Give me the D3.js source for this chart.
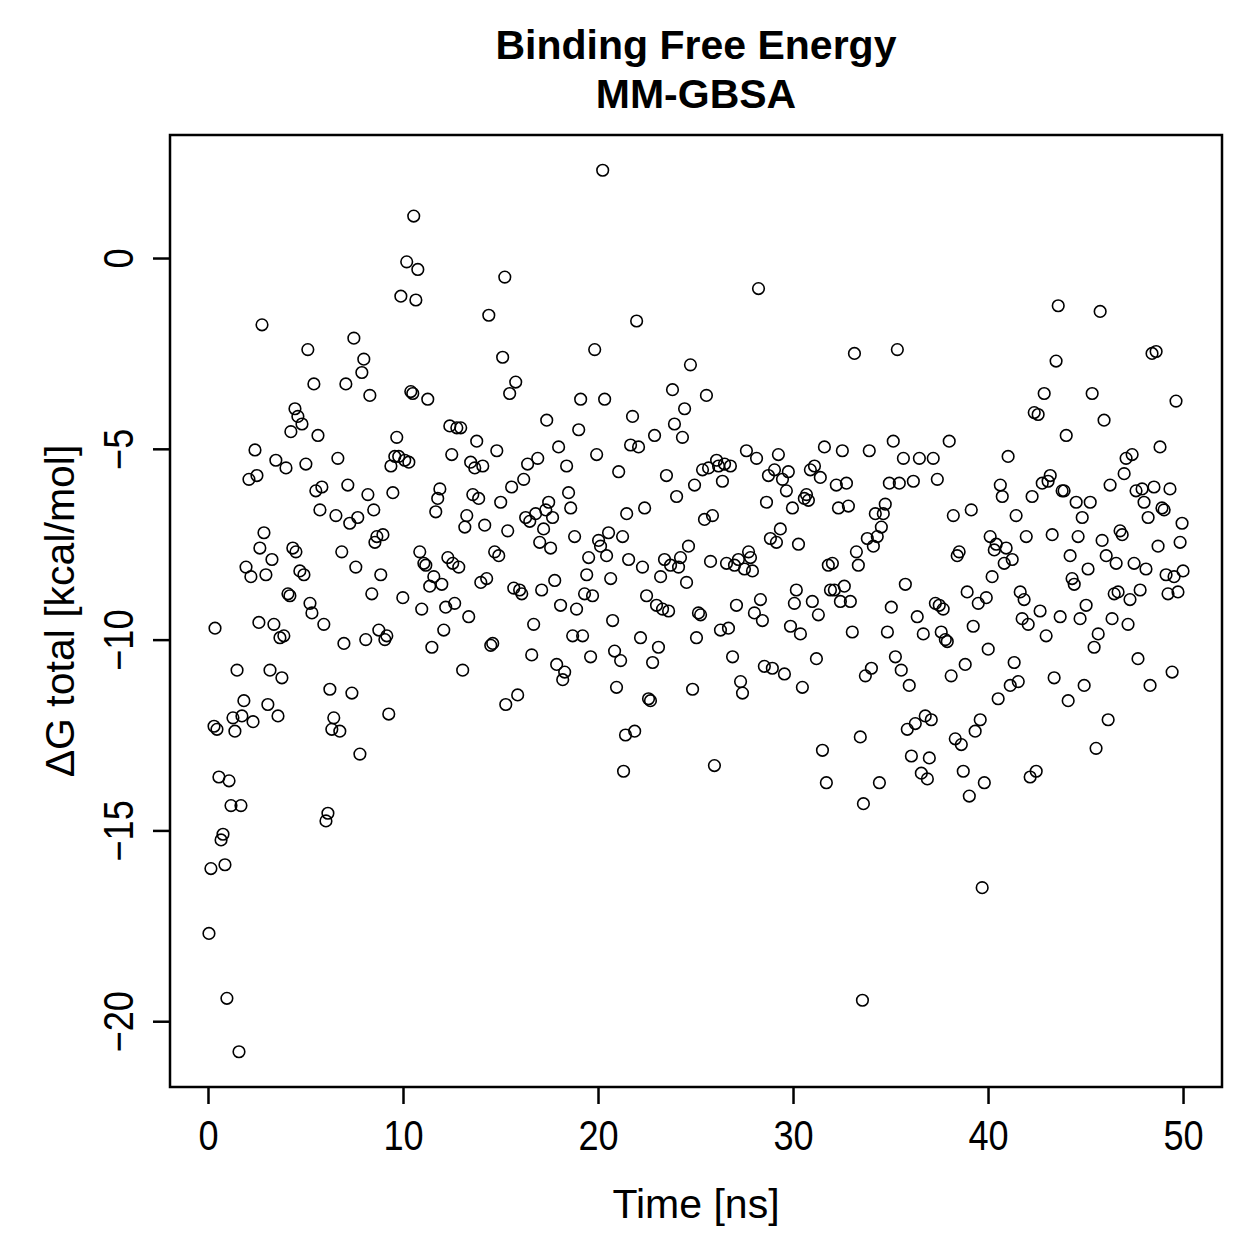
<!DOCTYPE html>
<html>
<head>
<meta charset="utf-8">
<script src="https://cdn.jsdelivr.net/npm/d3@7"></script>
<style>
  body { margin: 0; background: #fff; }
  svg text { font-family: "Liberation Sans", Arial, Helvetica, sans-serif; fill: #000; }
  .ttl { font-weight: bold; }
</style>
</head>
<body>
<div id="chart"></div>
<script>
// time in ns
const timeNs = [
  0.05,0.15,0.31,0.36,0.46,0.56,0.67,0.77,0.87,0.97,1.08,1.18,1.28,1.38,1.49,1.59,1.69,1.74,1.84,1.95,2.1,2.2,2.31,2.41,2.51,2.61,2.66,2.77,2.87,2.97,3.07,3.18,3.28,3.38,3.48,3.59,3.69,3.79,3.89,4.0,4.1,4.2,4.25,4.35,4.46,4.51,4.61,4.71,4.82,4.92,5.02,
  5.12,5.23,5.33,5.43,5.53,5.64,5.74,5.84,5.94,6.05,6.15,6.25,6.35,6.45,6.56,6.66,6.76,6.86,6.97,7.07,7.17,7.27,7.38,7.48,7.58,7.68,7.79,7.89,7.99,8.09,8.2,8.3,8.4,8.5,8.56,8.66,8.76,8.86,8.97,9.07,9.17,9.27,9.38,9.48,9.58,9.68,9.78,9.89,9.99,10.09,10.19,10.3,
  10.4,10.5,10.55,10.66,10.76,10.86,10.96,11.07,11.17,11.27,11.37,11.48,11.58,11.68,11.78,11.89,11.99,12.09,12.19,12.3,12.4,12.5,12.55,12.65,12.76,12.86,12.96,13.06,13.17,13.27,13.37,13.47,13.58,13.68,13.78,13.88,13.99,14.09,14.19,14.29,14.4,14.5,14.6,14.7,14.81,14.91,15.01,
  15.11,15.22,15.27,15.37,15.47,15.57,15.68,15.78,15.88,15.98,16.09,16.19,16.29,16.39,16.5,16.6,16.7,16.8,16.91,17.01,17.11,17.21,17.32,17.37,17.47,17.57,17.67,17.78,17.88,17.98,18.08,18.19,18.29,18.39,18.49,18.6,18.7,18.8,18.9,19.01,19.11,19.21,19.31,19.42,19.52,19.62,19.72,19.83,19.93,20.03,
  20.13,20.24,20.34,20.44,20.54,20.65,20.75,20.85,20.95,21.06,21.16,21.26,21.31,21.41,21.47,21.57,21.67,21.77,21.88,21.98,22.08,22.18,22.28,22.39,22.49,22.59,22.69,22.8,22.9,23.0,23.1,23.21,23.31,23.41,23.51,23.62,23.72,23.82,23.92,24.03,24.13,24.23,24.33,24.44,24.54,24.64,24.74,24.85,24.95,25.05,
  25.15,25.26,25.36,25.46,25.56,25.67,25.77,25.87,25.97,26.08,26.18,26.28,26.38,26.49,26.59,26.69,26.79,26.9,27.0,27.1,27.2,27.31,27.41,27.51,27.61,27.72,27.82,27.92,28.02,28.13,28.23,28.33,28.43,28.53,28.64,28.74,28.84,28.94,29.05,29.15,29.25,29.35,29.46,29.56,29.66,29.76,29.87,29.97,
  30.07,30.17,30.28,30.38,30.48,30.58,30.69,30.79,30.89,30.99,31.1,31.2,31.3,31.4,31.51,31.61,31.71,31.81,31.92,32.02,32.12,32.22,32.33,32.43,32.53,32.63,32.74,32.84,32.94,33.04,33.15,33.25,33.35,33.45,33.56,33.61,33.71,33.81,33.91,34.02,34.12,34.22,34.32,34.43,34.53,34.63,34.73,34.84,34.94,35.04,
  35.14,35.25,35.35,35.45,35.55,35.66,35.76,35.86,35.96,36.07,36.17,36.27,36.37,36.48,36.58,36.68,36.78,36.89,36.99,37.09,37.19,37.3,37.4,37.5,37.6,37.7,37.81,37.91,38.01,38.11,38.22,38.32,38.42,38.52,38.63,38.73,38.83,38.93,39.04,39.14,39.24,39.34,39.5,39.6,39.7,39.81,39.91,40.01,40.11,40.21,
  40.32,40.42,40.52,40.63,40.73,40.83,40.93,41.03,41.14,41.24,41.34,41.44,41.55,41.65,41.75,41.85,41.96,42.06,42.16,42.26,42.37,42.47,42.57,42.67,42.78,42.88,42.98,43.08,43.19,43.29,43.39,43.49,43.6,43.7,43.8,43.9,44.01,44.11,44.21,44.31,44.42,44.52,44.62,44.72,44.83,44.93,45.03,45.13,45.24,45.34,
  45.44,45.54,45.65,45.75,45.85,45.95,46.06,46.16,46.26,46.36,46.47,46.57,46.67,46.77,46.88,46.98,47.08,47.18,47.28,47.39,47.49,47.59,47.69,47.8,47.9,48.0,48.1,48.21,48.31,48.41,48.51,48.62,48.72,48.82,48.92,49.03,49.13,49.23,49.33,49.44,49.54,49.64,49.74,49.85,49.95,50.0
]

// delta G total in kcal/mol, same order
const deltaG = [
  -17.7,-16.0,-12.27,-9.7,-12.35,-13.6,-15.25,-15.1,-15.9,-19.4,-13.7,-14.35,-12.05,-12.4,-10.8,-20.8,-14.35,-12.0,-11.6,-8.1,-5.8,-8.35,-12.15,-5.03,-5.7,-9.55,-7.6,-1.75,-7.2,-8.3,-11.7,-10.8,-7.9,-9.6,-5.3,-12.0,-9.95,-11.0,-9.9,-5.5,-8.8,-8.85,-4.55,-7.6,-3.95,-7.7,-4.15,-8.2,-4.35,-8.3,-5.4,
  -2.4,-9.05,-9.3,-3.3,-6.1,-4.65,-6.6,-6.0,-9.6,-14.75,-14.55,-11.3,-12.35,-12.05,-6.75,-5.25,-12.4,-7.7,-10.1,-3.3,-5.95,-6.95,-11.4,-2.1,-8.1,-6.8,-13.0,-3.0,-2.65,-10.0,-6.2,-3.6,-8.8,-6.6,-7.45,-7.3,-9.75,-8.3,-7.25,-10.0,-9.9,-11.95,-5.45,-6.15,-5.2,-4.7,-5.2,-1.0,-8.9,-5.3,-0.1,-5.35,
  -3.5,-3.55,1.1,-1.1,-0.3,-7.7,-9.2,-8.0,-8.05,-3.7,-8.6,-10.2,-8.35,-6.65,-6.3,-6.05,-8.55,-9.75,-9.15,-7.85,-4.4,-5.15,-8.0,-9.05,-4.45,-8.1,-4.45,-10.8,-7.05,-6.75,-9.4,-5.35,-6.2,-5.5,-4.8,-6.3,-8.5,-5.45,-7.0,-8.4,-1.5,-10.15,-10.1,-7.7,-5.05,-7.8,-6.4,
  -2.6,-0.5,-11.7,-7.15,-3.55,-6.0,-8.65,-3.25,-11.45,-8.7,-8.8,-5.8,-6.8,-5.4,-6.9,-10.4,-9.6,-6.7,-5.25,-7.45,-8.7,-7.1,-6.6,-4.25,-6.4,-7.6,-6.8,-8.45,-10.65,-4.95,-9.1,-11.05,-10.85,-5.45,-6.15,-6.55,-9.9,-7.3,-9.2,-4.5,-3.7,-9.9,-8.8,-8.3,-7.85,-10.45,-8.85,-2.4,-5.15,-7.4,
  -7.55,2.3,-3.7,-7.8,-7.2,-8.4,-9.5,-10.3,-11.25,-5.6,-10.55,-7.3,-13.45,-12.5,-6.7,-7.9,-4.9,-4.15,-12.4,-1.65,-4.95,-9.95,-8.1,-6.55,-8.85,-11.55,-11.6,-10.6,-4.65,-9.1,-10.2,-8.35,-9.2,-7.9,-5.7,-9.25,-8.05,-3.45,-4.35,-6.25,-8.1,-7.85,-4.7,-3.95,-8.5,-7.55,-2.8,-11.3,-5.95,-9.95,
  -9.3,-9.35,-5.55,-6.85,-3.6,-5.5,-7.95,-6.75,-13.3,-5.3,-5.45,-9.75,-5.85,-5.4,-8.0,-9.7,-5.45,-10.45,-8.05,-9.1,-7.9,-11.1,-11.4,-8.15,-5.05,-7.7,-7.85,-8.2,-9.3,-5.25,-0.8,-8.95,-9.5,-10.7,-6.4,-5.7,-7.35,-10.75,-5.55,-7.45,-5.15,-7.1,-5.8,-10.9,-6.1,-5.6,-9.65,-6.55,
  -9.05,-8.7,-7.5,-9.85,-11.25,-6.3,-6.2,-6.35,-5.55,-9.0,-5.45,-10.5,-9.35,-5.75,-12.9,-4.95,-13.75,-8.05,-8.7,-8.0,-8.7,-5.95,-6.55,-9.0,-5.05,-8.6,-5.9,-6.5,-9.0,-9.8,-2.5,-7.7,-8.05,-12.55,-19.45,-14.3,-10.95,-7.35,-5.05,-10.75,-7.55,-6.7,-7.3,-13.75,-7.05,-6.7,-6.45,-9.8,-5.9,-9.15,
  -4.8,-10.45,-2.4,-5.9,-10.8,-5.25,-8.55,-12.35,-11.2,-13.05,-5.85,-12.2,-9.4,-5.25,-13.5,-9.85,-12.0,-13.65,-13.1,-12.1,-5.25,-9.05,-5.8,-9.1,-9.8,-9.2,-10.0,-10.05,-4.8,-10.95,-6.75,-12.6,-7.8,-7.7,-12.75,-13.45,-10.65,-8.75,-14.1,-6.6,-9.65,-12.4,-9.05,-12.1,-16.5,-13.75,-8.9,-10.25,-7.3,-8.35,
  -7.65,-7.5,-11.55,-5.95,-6.25,-8.0,-7.6,-5.2,-11.2,-7.9,-10.6,-6.75,-11.1,-8.75,-9.45,-8.95,-7.3,-9.6,-13.6,-6.25,-4.05,-13.45,-4.1,-9.25,-5.9,-3.55,-9.9,-5.85,-5.7,-7.25,-11.0,-2.7,-1.25,-9.4,-6.1,-6.1,-4.65,-11.6,-7.8,-8.4,-8.55,-6.4,-7.3,-9.45,-6.8,-11.2,-9.1,-8.15,-6.4,-3.55,
  -10.2,-12.85,-9.85,-1.4,-7.4,-4.25,-7.8,-12.1,-5.95,-9.45,-8.8,-8.0,-8.75,-7.15,-7.25,-5.65,-5.25,-9.6,-8.95,-5.15,-8.0,-6.1,-10.5,-8.7,-6.05,-6.4,-8.15,-6.8,-11.2,-2.5,-6.0,-2.45,-7.55,-4.95,-6.55,-6.6,-8.3,-8.8,-6.05,-10.85,-8.35,-3.75,-8.75,-7.45,-6.95,-8.2
]

const xTicks = [0, 10, 20, 30, 40, 50]
const yTicks = [0, -5, -10, -15, -20]
const titleLines = ['Binding Free Energy', 'MM-GBSA']
const xLabel = 'Time [ns]'
const yLabel = 'ΔG total [kcal/mol]'

const W = 1259, H = 1259
const box = { left: 170, right: 1222, top: 135, bottom: 1087 }
// the reference uses a tall, narrow face for the tick numbers
const tickFont = 42, squeeze = 0.86

const data = timeNs.map((t, i) => ({ t: t, g: deltaG[i] }))

// R style 4% padding around the data range
const pad = ([a, b]) => [a - (b - a) * 0.04, b + (b - a) * 0.04]

const x = d3.scaleLinear()
  .domain(pad(d3.extent(timeNs)))
  .range([box.left, box.right])

const y = d3.scaleLinear()
  .domain(pad(d3.extent(deltaG)))
  .range([box.bottom, box.top])

const svg = d3.select('#chart')
  .append('svg')
  .attr('width', W)
  .attr('height', H)

svg.append('rect')
  .attr('width', W)
  .attr('height', H)
  .attr('fill', '#fff')

// x axis
const xAxis = svg.append('g')
  .attr('transform', `translate(0, ${box.bottom})`)
  .call(d3.axisBottom(x).tickValues(xTicks).tickSize(17).tickPadding(14))
xAxis.select('.domain').remove()
xAxis.selectAll('line').attr('stroke', '#000').attr('stroke-width', 2.5)
xAxis.selectAll('text')
  .attr('font-size', tickFont)
  .attr('fill', '#000')
  .attr('dy', null)
  .attr('y', 63)
  .attr('transform', `scale(${squeeze}, 1)`)

// y axis, labels turned like R's las=0
const yAxis = svg.append('g')
  .attr('transform', `translate(${box.left}, 0)`)
  .call(d3.axisLeft(y).tickValues(yTicks).tickSize(17).tickFormat(d3.format('d')))
yAxis.select('.domain').remove()
yAxis.selectAll('line').attr('stroke', '#000').attr('stroke-width', 2.5)
yAxis.selectAll('text')
  .attr('font-size', tickFont)
  .attr('fill', '#000')
  .attr('x', null)
  .attr('dy', null)
  .attr('y', 0)
  .attr('text-anchor', 'middle')
  .attr('transform', `translate(-37, 0) rotate(-90) scale(${squeeze}, 1)`)

// plot box
svg.append('rect')
  .attr('x', box.left)
  .attr('y', box.top)
  .attr('width', box.right - box.left)
  .attr('height', box.bottom - box.top)
  .attr('fill', 'none')
  .attr('stroke', '#000')
  .attr('stroke-width', 2.5)

// points
svg.append('g')
  .selectAll('circle')
  .data(data)
  .enter()
  .append('circle')
  .attr('cx', d => x(d.t))
  .attr('cy', d => y(d.g))
  .attr('r', 5.8)
  .attr('fill', 'none')
  .attr('stroke', '#000')
  .attr('stroke-width', 1.6)

// titles
svg.selectAll('.ttl')
  .data(titleLines)
  .enter()
  .append('text')
  .attr('class', 'ttl')
  .attr('x', (box.left + box.right) / 2)
  .attr('y', (d, i) => 59 + i * 49)
  .attr('text-anchor', 'middle')
  .attr('font-size', 41)
  .text(d => d)

svg.append('text')
  .attr('x', (box.left + box.right) / 2)
  .attr('y', 1218)
  .attr('text-anchor', 'middle')
  .attr('font-size', 41)
  .text(xLabel)

svg.append('text')
  .attr('transform', `translate(74, ${(box.top + box.bottom) / 2}) rotate(-90)`)
  .attr('text-anchor', 'middle')
  .attr('font-size', 41)
  .text(yLabel)
</script>
</body>
</html>
